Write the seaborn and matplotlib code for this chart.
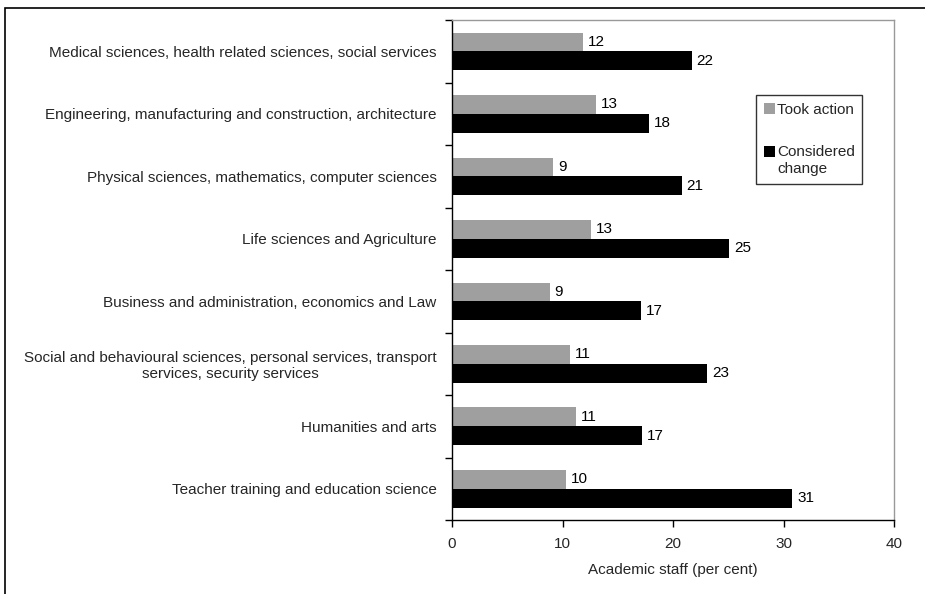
import matplotlib
matplotlib.use("Agg")
import matplotlib.pyplot as plt
import matplotlib.patches as mpatches
import seaborn as sns
import pandas as pd

categories = [
    "Medical sciences, health related sciences, social services",
    "Engineering, manufacturing and construction, architecture",
    "Physical sciences, mathematics, computer sciences",
    "Life sciences and Agriculture",
    "Business and administration, economics and Law",
    "Social and behavioural sciences, personal services, transport\nservices, security services",
    "Humanities and arts",
    "Teacher training and education science",
]
took_action = [11.9, 13.0, 9.15, 12.6, 8.85, 10.7, 11.2, 10.3]
considered_change = [21.7, 17.8, 20.8, 25.1, 17.1, 23.1, 17.2, 30.8]
took_labels = ["12", "13", "9", "13", "9", "11", "11", "10"]
considered_labels = ["22", "18", "21", "25", "17", "23", "17", "31"]
series_names = ["Took action", "Considered\nchange"]
x_ticks = [0, 10, 20, 30, 40]

FS = 11

sns.set_theme(style="white")
plt.rcParams["font.family"] = ["Liberation Sans", "DejaVu Sans"]

df = pd.DataFrame({
    "category": categories * 2,
    "value": took_action + considered_change,
    "series": [series_names[0]] * len(categories) + [series_names[1]] * len(categories),
})

fig = plt.figure(figsize=(9.25, 5.94), dpi=100)
ax = fig.add_axes([452 / 925, 1 - 520 / 594, (894 - 452) / 925, (520 - 20) / 594])

palette = {series_names[0]: "#9f9f9f", series_names[1]: "#000000"}
sns.barplot(data=df, y="category", x="value", hue="series", orient="h",
            palette=palette, width=0.6, saturation=1, ax=ax, legend=False,
            edgecolor="none")

for cont, labs in zip(ax.containers, [took_labels, considered_labels]):
    ax.bar_label(cont, labels=labs, padding=3.5, fontsize=FS, color="black")

ax.set_xlim(0, 40)
ax.set_ylim(len(categories) - 0.5, -0.5)
ax.set_xticks(x_ticks)
ax.set_xticklabels([str(t) for t in x_ticks], fontsize=FS)
ax.set_xlabel("Academic staff (per cent)", fontsize=FS, labelpad=9)
ax.set_ylabel("")
ax.set_yticks([i + 0.5 for i in range(-1, len(categories))], minor=True)
ax.tick_params(axis="y", which="major", length=0, pad=11, labelsize=FS)
ax.tick_params(axis="y", which="minor", length=5, width=1, color="black", direction="out", left=True)
ax.tick_params(axis="x", which="major", length=5, width=1, color="black", direction="out", bottom=True, pad=7)
for lab in ax.get_yticklabels():
    lab.set_multialignment("center")

for s in ["left", "bottom"]:
    ax.spines[s].set_color("black")
    ax.spines[s].set_linewidth(1)
for s in ["top", "right"]:
    ax.spines[s].set_color("#999999")
    ax.spines[s].set_linewidth(1)

handles = [mpatches.Patch(facecolor=palette[n], edgecolor="none") for n in series_names]
leg = ax.legend(handles, series_names, loc="upper left",
                bbox_to_anchor=((756 - 452) / 442, 1 - (95 - 20) / 500),
                frameon=True, fancybox=False, fontsize=FS, handlelength=0.72,
                handleheight=0.72, handletextpad=0.15, labelspacing=1.85,
                borderpad=0.5, borderaxespad=0)
for t in leg.get_texts():
    t.set_linespacing(1.3)
leg.get_frame().set_edgecolor("black")
leg.get_frame().set_linewidth(1)
h2 = leg.legend_handles[1]
h2.set_y(h2.get_y() + 0.62 * FS)

fig.patches.append(mpatches.Rectangle((5 / 925, -0.1), 1.2, 1 - 8 / 594 + 0.1,
                                      transform=fig.transFigure, fill=False,
                                      edgecolor="black", linewidth=1.2, figure=fig))

fig.savefig("out.png", dpi=100)
